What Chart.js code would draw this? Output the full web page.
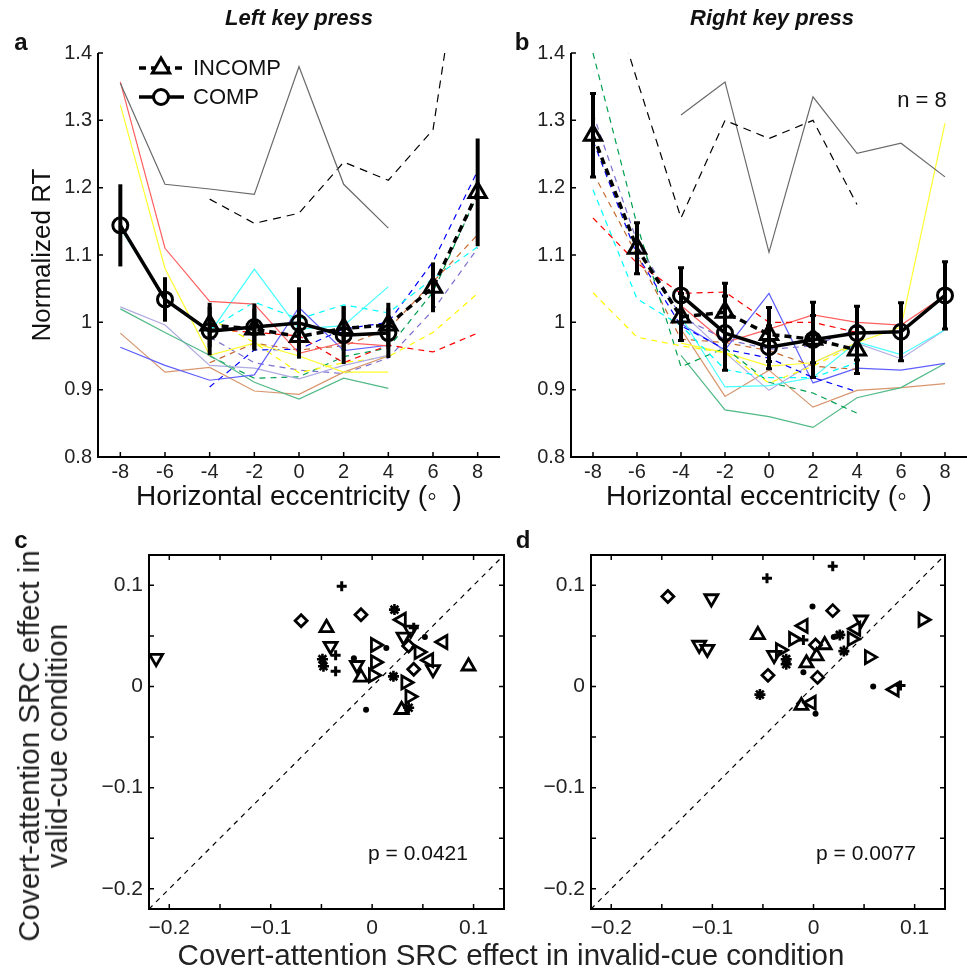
<!DOCTYPE html>
<html>
<head>
<meta charset="utf-8">
<script src="https://cdn.jsdelivr.net/npm/chart.js@4.4.0/dist/chart.umd.min.js"></script>
<style>
html, body { margin: 0; overflow: hidden; background: #fff; }
body { width: 967px; height: 972px; position: relative; font-family: "Liberation Sans", Arial, sans-serif; }
canvas { position: absolute; }
.t { position: absolute; white-space: nowrap; color: #111; transform: translate(-50%, -50%); }
</style>
</head>
<body>
<canvas id="chartA" width="520" height="520" style="left:0;top:0"></canvas>
<canvas id="chartB" width="460" height="520" style="left:520px;top:0"></canvas>
<canvas id="chartC" width="520" height="452" style="left:0;top:520px"></canvas>
<canvas id="chartD" width="447" height="452" style="left:520px;top:520px"></canvas>

<div class="t" style="left:299px;top:18px;font:italic bold 22px 'Liberation Sans',Arial">Left key press</div>
<div class="t" style="left:772px;top:18px;font:italic bold 22px 'Liberation Sans',Arial">Right key press</div>
<div class="t" style="left:21px;top:42px;font:bold 24px 'Liberation Sans',Arial">a</div>
<div class="t" style="left:522px;top:42px;font:bold 24px 'Liberation Sans',Arial">b</div>
<div class="t" style="left:21px;top:540px;font:bold 24px 'Liberation Sans',Arial">c</div>
<div class="t" style="left:523px;top:540px;font:bold 24px 'Liberation Sans',Arial">d</div>
<div class="t" style="left:922px;top:100px;font:22px 'Liberation Sans',Arial">n = 8</div>
<div class="t" style="left:418px;top:853px;font:21px 'Liberation Sans',Arial">p = 0.0421</div>
<div class="t" style="left:866px;top:853px;font:21px 'Liberation Sans',Arial">p = 0.0077</div>
<div class="t" style="left:43px;top:746px;transform:translate(-50%,-50%) rotate(-90deg);font:29.5px 'Liberation Sans',Arial;line-height:28px;text-align:center;color:#222">Covert-attention SRC effect in<br>valid-cue condition</div>
<div class="t" style="left:511px;top:955px;font:29.5px 'Liberation Sans',Arial;color:#222">Covert-attention SRC effect in invalid-cue condition</div>

<script>
// ---- data: panels a / b (normalized RT per subject) ----

const eccTicks = [-8, -6, -4, -2, 0, 2, 4, 6, 8];
const rtTicks = [0.8, 0.9, 1.0, 1.1, 1.2, 1.3, 1.4];

// left key press: COMP from -8 to 4, INCOMP from -4 to 8
const aCompEcc = [-8, -6, -4, -2, 0, 2, 4];
const aIncEcc = [-4, -2, 0, 2, 4, 6, 8];

const aCompGray   = [1.355, 1.205, 1.198, 1.190, 1.380, 1.205, 1.140];
const aCompRed    = [1.357, 1.110, 1.031, 1.027, 0.954, 0.970, 0.965];
const aCompYellow = [1.323, 1.080, 0.951, 0.969, 0.950, 0.926, 0.926];
const aCompCyan   = [1.140, 1.035, 0.984, 1.079, 0.990, 0.995, 1.053];
const aCompBlue   = [0.963, 0.936, 0.914, 0.922, 1.022, 0.958, 0.966];
const aCompGreen  = [1.020, 0.985, 0.951, 0.911, 0.886, 0.917, 0.902];
const aCompPurple = [1.023, 0.996, 0.936, 0.932, 0.916, 0.936, 0.951];
const aCompBrown  = [0.984, 0.926, 0.933, 0.898, 0.893, 0.926, 0.950];

const aIncGray   = [1.183, 1.147, 1.162, 1.238, 1.211, 1.286, 1.720];
const aIncRed    = [0.990, 0.985, 0.980, 0.940, 0.966, 0.956, 0.984];
const aIncYellow = [1.006, 0.970, 0.925, 0.940, 0.949, 0.985, 1.043];
const aIncCyan   = [0.990, 1.030, 1.005, 1.026, 1.014, 1.065, 1.112];
const aIncBlue   = [0.904, 0.959, 0.960, 0.990, 1.000, 1.090, 1.225];
const aIncGreen  = [0.950, 0.917, 0.919, 0.949, 0.962, 1.045, 1.190];
const aIncPurple = [0.978, 0.940, 0.929, 0.924, 0.947, 1.018, 1.110];
const aIncBrown  = [0.940, 0.969, 0.959, 0.965, 0.990, 1.060, 1.130];

const aCompMean = [1.144, 1.034, 0.987, 0.993, 0.999, 0.981, 0.984];
const aCompErr  = [0.061, 0.033, 0.036, 0.035, 0.053, 0.043, 0.037];
const aIncMean  = [0.996, 0.990, 0.979, 0.991, 0.996, 1.052, 1.193];
const aIncErr   = [0.033, 0.030, 0.030, 0.033, 0.033, 0.037, 0.080];

// right key press: INCOMP from -8 to 4, COMP from -4 to 8
const bIncEcc = [-8, -6, -4, -2, 0, 2, 4];
const bCompEcc = [-4, -2, 0, 2, 4, 6, 8];

const bIncGray   = [1.570, 1.360, 1.155, 1.300, 1.273, 1.300, 1.175];
const bIncRed    = [1.155, 1.088, 1.043, 1.045, 1.000, 1.000, 0.985];
const bIncYellow = [1.044, 0.978, 0.965, 0.955, 0.910, 0.935, 0.968];
const bIncCyan   = [1.197, 1.035, 0.995, 0.930, 0.918, 0.918, 0.940];
const bIncBlue   = [1.270, 1.100, 0.995, 0.960, 0.947, 0.918, 0.897];
const bIncGreen  = [1.400, 1.145, 0.934, 0.962, 0.911, 0.895, 0.865];
const bIncPurple = [1.310, 1.120, 1.008, 0.975, 0.960, 0.965, 0.990];
const bIncBrown  = [1.222, 1.100, 0.975, 0.970, 0.958, 0.935, 0.930];

const bCompGray   = [1.308, 1.357, 1.104, 1.335, 1.251, 1.266, 1.216];
const bCompRed    = [1.025, 0.970, 0.990, 1.011, 1.000, 0.996, 1.040];
const bCompYellow = [0.969, 0.955, 0.935, 0.940, 0.970, 0.993, 1.296];
const bCompCyan   = [1.008, 0.904, 0.906, 0.918, 0.971, 0.952, 0.989];
const bCompBlue   = [0.998, 0.959, 1.043, 0.910, 0.932, 0.929, 0.939];
const bCompGreen  = [0.951, 0.870, 0.860, 0.844, 0.888, 0.903, 0.939];
const bCompPurple = [1.015, 0.955, 0.899, 0.940, 0.969, 0.946, 0.989];
const bCompBrown  = [0.990, 0.890, 0.929, 0.874, 0.899, 0.903, 0.909];

const bIncMean  = [1.278, 1.110, 1.008, 1.015, 0.982, 0.975, 0.959];
const bIncErr   = [0.062, 0.038, 0.035, 0.043, 0.040, 0.035, 0.035];
const bCompMean = [1.040, 0.984, 0.963, 0.974, 0.984, 0.986, 1.040];
const bCompErr  = [0.041, 0.055, 0.032, 0.056, 0.040, 0.043, 0.050];

// ---- data: panels c / d (invalid-cue effect, valid-cue effect) ----

const srcTicks = [-0.2, -0.1, 0, 0.1];
const srcMinorTicks = [-0.2, -0.15, -0.1, -0.05, 0, 0.05, 0.1];
const diag = [-0.22, 0.13];

const cUp      = [[-0.045, 0.058], [-0.011, 0.009], [0.029, -0.023], [0.095, 0.020]];
const cDown    = [[-0.213, 0.028], [-0.041, 0.040], [-0.015, 0.021], [0.031, 0.049], [0.038, 0.056], [0.060, 0.017]];
const cLeft    = [[0.029, 0.066], [0.070, 0.044], [0.056, 0.026]];
const cRight   = [[0.003, 0.041], [0.046, 0.034], [0.003, 0.024], [0.001, 0.011], [0.033, 0.004], [0.037, -0.010]];
const cDiamond = [[-0.070, 0.065], [-0.011, 0.071], [0.036, 0.040], [0.041, 0.017]];
const cPlus    = [[-0.030, 0.099], [0.041, 0.058], [-0.036, 0.031], [-0.036, 0.015]];
const cStar    = [[0.022, 0.076], [-0.049, 0.027], [-0.048, 0.020], [0.021, 0.010], [0.036, -0.021]];
const cDot     = [[0.052, 0.049], [0.014, 0.038], [-0.018, 0.028], [-0.006, -0.023]];

const dUp      = [[-0.055, 0.051], [0.011, 0.041], [0.003, 0.030], [-0.007, 0.023], [-0.012, -0.019]];
const dDown    = [[-0.101, 0.087], [0.047, 0.066], [-0.113, 0.041], [-0.105, 0.037], [-0.039, 0.031]];
const dLeft    = [[-0.010, 0.060], [0.042, 0.057], [0.080, -0.003], [-0.002, -0.016]];
const dRight   = [[-0.020, 0.047], [0.038, 0.047], [0.108, 0.066], [0.055, 0.029], [-0.033, 0.036]];
const dDiamond = [[-0.144, 0.089], [0.019, 0.075], [0.002, 0.041], [-0.045, 0.011], [0.004, 0.009]];
const dPlus    = [[0.019, 0.119], [-0.046, 0.107], [-0.010, 0.046], [0.086, 0.001]];
const dStar    = [[0.026, 0.051], [0.030, 0.035], [-0.027, 0.027], [-0.027, 0.022], [-0.053, -0.008]];
const dDot     = [[-0.001, 0.079], [0.020, 0.049], [-0.010, 0.014], [0.059, 0.000], [0.002, -0.027]];

// ---- styles ----

const FONT = '"Liberation Sans", Arial, sans-serif';
Chart.defaults.font.family = FONT;
Chart.defaults.color = '#222';

const solidCol = {
    gray: 'rgb(105,105,105)', red: 'rgb(255,95,95)', yellow: 'rgb(255,255,50)', cyan: 'rgb(70,255,255)',
    blue: 'rgb(95,95,255)', green: 'rgb(80,185,135)', purple: 'rgb(175,170,225)', brown: 'rgb(215,150,110)'
};
const dashCol = {
    gray: '#000', red: '#ff0000', yellow: '#ffff00', cyan: '#00ffff',
    blue: '#0000ff', green: '#00a050', purple: '#7a70d0', brown: '#c46a30'
};

function subjLine(xs, ys, color, dashed) {
    return {
        data: xs.map((x, i) => ({ x: x, y: ys[i] })),
        borderColor: color,
        borderWidth: 1.2,
        borderDash: dashed ? (color === '#000' ? [8, 6] : [6, 5]) : [],
        pointRadius: 0,
        tension: 0,
        order: 10
    };
}

function meanLine(xs, ys, comp) {
    return {
        data: xs.map((x, i) => ({ x: x, y: ys[i] })),
        borderColor: '#000',
        borderWidth: 3.5,
        borderDash: comp ? [] : [7, 5],
        pointStyle: comp ? 'circle' : 'triangle',
        pointRadius: comp ? 7.5 : 10,
        pointBorderWidth: 3,
        pointBorderColor: '#000',
        pointBackgroundColor: 'rgba(0,0,0,0)',
        tension: 0,
        order: 1
    };
}

// axes lines + inward ticks (MATLAB look)
const frame = {
    id: 'frame',
    afterDatasetsDraw(chart, args, o) {
        const { ctx, chartArea: a, scales: { x, y } } = chart;
        ctx.save();
        ctx.strokeStyle = '#000';
        ctx.lineWidth = 1.5;
        ctx.beginPath();
        o.xt.forEach(v => {
            const p = x.getPixelForValue(v);
            ctx.moveTo(p, a.bottom); ctx.lineTo(p, a.bottom - o.len);
            if (o.box) { ctx.moveTo(p, a.top); ctx.lineTo(p, a.top + o.len); }
        });
        o.yt.forEach(v => {
            const p = y.getPixelForValue(v);
            ctx.moveTo(a.left, p); ctx.lineTo(a.left + o.len, p);
            if (o.box) { ctx.moveTo(a.right, p); ctx.lineTo(a.right - o.len, p); }
        });
        ctx.stroke();
        ctx.lineWidth = 2;
        ctx.beginPath();
        if (o.box) {
            ctx.rect(a.left, a.top, a.right - a.left, a.bottom - a.top);
        } else {
            ctx.moveTo(a.left, a.top); ctx.lineTo(a.left, a.bottom); ctx.lineTo(a.right, a.bottom);
        }
        ctx.stroke();
        ctx.restore();
    }
};

// error bars for the group means
const errorBars = {
    id: 'errorBars',
    afterDatasetsDraw(chart, args, o) {
        const { ctx, scales: { x, y } } = chart;
        ctx.save();
        ctx.strokeStyle = '#000';
        ctx.lineWidth = 4;
        o.sets.forEach(s => {
            s.xs.forEach((v, i) => {
                const px = x.getPixelForValue(v);
                const top = y.getPixelForValue(s.mean[i] + s.err[i]);
                const bot = y.getPixelForValue(s.mean[i] - s.err[i]);
                ctx.beginPath();
                ctx.moveTo(px, top); ctx.lineTo(px, bot);
                ctx.stroke();
                if (o.cap) {
                    ctx.lineWidth = 3;
                    ctx.beginPath();
                    ctx.moveTo(px - o.cap, top); ctx.lineTo(px + o.cap, top);
                    ctx.moveTo(px - o.cap, bot); ctx.lineTo(px + o.cap, bot);
                    ctx.stroke();
                    ctx.lineWidth = 4;
                }
            });
        });
        ctx.restore();
    }
};

// legend of panel a
const legendA = {
    id: 'legendA',
    afterDraw(chart) {
        const ctx = chart.ctx;
        ctx.save();
        ctx.strokeStyle = '#000';
        ctx.lineWidth = 3.5;
        ctx.setLineDash([7, 5]);
        ctx.beginPath(); ctx.moveTo(139, 68); ctx.lineTo(184, 68); ctx.stroke();
        ctx.setLineDash([]);
        ctx.beginPath(); ctx.moveTo(139, 97); ctx.lineTo(184, 97); ctx.stroke();
        ctx.lineWidth = 3;
        const r = 10;
        ctx.beginPath();
        ctx.moveTo(161, 68 - r);
        ctx.lineTo(161 + r * Math.sin(2 * Math.PI / 3), 68 - r * Math.cos(2 * Math.PI / 3));
        ctx.lineTo(161 + r * Math.sin(4 * Math.PI / 3), 68 - r * Math.cos(4 * Math.PI / 3));
        ctx.closePath();
        ctx.fillStyle = '#fff'; ctx.fill(); ctx.stroke();
        ctx.beginPath(); ctx.arc(161, 97, 7.5, 0, 2 * Math.PI); ctx.fill(); ctx.stroke();
        ctx.fillStyle = '#111';
        ctx.font = '22px ' + FONT;
        ctx.textBaseline = 'middle';
        ctx.fillText('INCOMP', 193, 69);
        ctx.fillText('COMP', 193, 98);
        ctx.restore();
    }
};

function rtLabel(v) { return v === 1 ? '1' : v.toFixed(1); }
function srcLabel(v) { return v === 0 ? '0' : (v < 0 ? '\u2212' : '') + Math.abs(v).toFixed(1); }

function rtScales(yWidth, showYTitle) {
    return {
        x: {
            type: 'linear', min: -9, max: 9,
            afterBuildTicks: s => { s.ticks = eccTicks.map(v => ({ value: v })); },
            afterFit: s => { s.height = 63; },
            ticks: { callback: v => String(v), font: { size: 20 }, padding: 3, maxRotation: 0, autoSkip: false },
            grid: { display: false, drawTicks: false },
            border: { display: false },
            title: { display: true, text: 'Horizontal eccentricity (\u25E6  )', font: { size: 28 }, color: '#111', padding: { top: 0, bottom: 6 } }
        },
        y: {
            min: 0.8, max: 1.4,
            afterBuildTicks: s => { s.ticks = rtTicks.map(v => ({ value: v })); },
            afterFit: s => { s.width = yWidth; },
            ticks: { callback: rtLabel, font: { size: 20 }, padding: 6 },
            grid: { display: false, drawTicks: false },
            border: { display: false },
            title: { display: showYTitle, text: 'Normalized RT', font: { size: 26 }, color: '#111', padding: { top: 0, bottom: 0 } }
        }
    };
}

function srcScales(yWidth) {
    return {
        x: {
            type: 'linear', min: -0.22, max: 0.13,
            afterBuildTicks: s => { s.ticks = srcTicks.map(v => ({ value: v })); },
            afterFit: s => { s.height = 63; },
            ticks: { callback: srcLabel, font: { size: 21 }, padding: 7, maxRotation: 0, autoSkip: false },
            grid: { display: false, drawTicks: false },
            border: { display: false }
        },
        y: {
            type: 'linear', min: -0.22, max: 0.13,
            afterBuildTicks: s => { s.ticks = srcTicks.map(v => ({ value: v })); },
            afterFit: s => { s.width = yWidth; },
            ticks: { callback: srcLabel, font: { size: 21 }, padding: 6 },
            grid: { display: false, drawTicks: false },
            border: { display: false }
        }
    };
}

// ---- panel a ----
new Chart(document.querySelector('#chartA'), {
    type: 'line',
    data: {
        datasets: [
            meanLine(aCompEcc, aCompMean, true),
            meanLine(aIncEcc, aIncMean, false),
            subjLine(aCompEcc, aCompGray, solidCol.gray, false),
            subjLine(aCompEcc, aCompRed, solidCol.red, false),
            subjLine(aCompEcc, aCompYellow, solidCol.yellow, false),
            subjLine(aCompEcc, aCompCyan, solidCol.cyan, false),
            subjLine(aCompEcc, aCompBlue, solidCol.blue, false),
            subjLine(aCompEcc, aCompGreen, solidCol.green, false),
            subjLine(aCompEcc, aCompPurple, solidCol.purple, false),
            subjLine(aCompEcc, aCompBrown, solidCol.brown, false),
            subjLine(aIncEcc, aIncGray, dashCol.gray, true),
            subjLine(aIncEcc, aIncRed, dashCol.red, true),
            subjLine(aIncEcc, aIncYellow, dashCol.yellow, true),
            subjLine(aIncEcc, aIncCyan, dashCol.cyan, true),
            subjLine(aIncEcc, aIncBlue, dashCol.blue, true),
            subjLine(aIncEcc, aIncGreen, dashCol.green, true),
            subjLine(aIncEcc, aIncPurple, dashCol.purple, true),
            subjLine(aIncEcc, aIncBrown, dashCol.brown, true)
        ]
    },
    options: {
        responsive: false, animation: false, events: [],
        layout: { padding: { left: 27, top: 53, right: 20, bottom: 0 } },
        scales: rtScales(71, true),
        plugins: {
            legend: { display: false }, tooltip: { enabled: false },
            frame: { xt: eccTicks, yt: rtTicks, len: 5, box: false },
            errorBars: { sets: [
                { xs: aCompEcc, mean: aCompMean, err: aCompErr },
                { xs: aIncEcc, mean: aIncMean, err: aIncErr }
            ], cap: 0 }
        }
    },
    plugins: [frame, errorBars, legendA]
});

// ---- panel b ----
new Chart(document.querySelector('#chartB'), {
    type: 'line',
    data: {
        datasets: [
            meanLine(bCompEcc, bCompMean, true),
            meanLine(bIncEcc, bIncMean, false),
            subjLine(bIncEcc, bIncGray, dashCol.gray, true),
            subjLine(bIncEcc, bIncRed, dashCol.red, true),
            subjLine(bIncEcc, bIncYellow, dashCol.yellow, true),
            subjLine(bIncEcc, bIncCyan, dashCol.cyan, true),
            subjLine(bIncEcc, bIncBlue, dashCol.blue, true),
            subjLine(bIncEcc, bIncGreen, dashCol.green, true),
            subjLine(bIncEcc, bIncPurple, dashCol.purple, true),
            subjLine(bIncEcc, bIncBrown, dashCol.brown, true),
            subjLine(bCompEcc, bCompGray, solidCol.gray, false),
            subjLine(bCompEcc, bCompRed, solidCol.red, false),
            subjLine(bCompEcc, bCompYellow, solidCol.yellow, false),
            subjLine(bCompEcc, bCompCyan, solidCol.cyan, false),
            subjLine(bCompEcc, bCompBlue, solidCol.blue, false),
            subjLine(bCompEcc, bCompGreen, solidCol.green, false),
            subjLine(bCompEcc, bCompPurple, solidCol.purple, false),
            subjLine(bCompEcc, bCompBrown, solidCol.brown, false)
        ]
    },
    options: {
        responsive: false, animation: false, events: [],
        layout: { padding: { left: 0, top: 53, right: 6, bottom: 0 } },
        scales: rtScales(51, false),
        plugins: {
            legend: { display: false }, tooltip: { enabled: false },
            frame: { xt: eccTicks, yt: rtTicks, len: 5, box: false },
            errorBars: { sets: [
                { xs: bCompEcc, mean: bCompMean, err: bCompErr },
                { xs: bIncEcc, mean: bIncMean, err: bIncErr }
            ], cap: 3 }
        }
    },
    plugins: [frame, errorBars]
});

// ---- panels c / d ----
function marks(pts, style, rot, r, bw, fill) {
    return {
        data: pts.map(p => ({ x: p[0], y: p[1] })),
        pointStyle: style,
        pointRotation: rot,
        pointRadius: r,
        pointBorderWidth: bw,
        pointBorderColor: '#000',
        pointBackgroundColor: fill || 'rgba(0,0,0,0)',
        showLine: false
    };
}

function diagLine() {
    return {
        data: diag.map(v => ({ x: v, y: v })),
        showLine: true,
        borderColor: '#000',
        borderWidth: 1.2,
        borderDash: [5, 5],
        pointRadius: 0
    };
}

function scatterSets(up, down, left, right, diamond, plus, star, dot) {
    return [
        diagLine(),
        marks(up, 'triangle', 0, 7.5, 2.8),
        marks(down, 'triangle', 180, 7.5, 2.8),
        marks(left, 'triangle', 270, 7.5, 2.8),
        marks(right, 'triangle', 90, 7.5, 2.8),
        marks(diamond, 'rectRot', 0, 6, 2.8),
        marks(plus, 'cross', 0, 5, 3),
        marks(star, 'star', 0, 5.5, 2.6),
        marks(dot, 'circle', 0, 3, 0, '#000')
    ];
}

new Chart(document.querySelector('#chartC'), {
    type: 'scatter',
    data: { datasets: scatterSets(cUp, cDown, cLeft, cRight, cDiamond, cPlus, cStar, cDot) },
    options: {
        responsive: false, animation: false, events: [],
        layout: { padding: { left: 0, top: 35, right: 16, bottom: 0 } },
        scales: srcScales(149),
        plugins: {
            legend: { display: false }, tooltip: { enabled: false },
            frame: { xt: srcMinorTicks, yt: srcMinorTicks, len: 5, box: true }
        }
    },
    plugins: [frame]
});

new Chart(document.querySelector('#chartD'), {
    type: 'scatter',
    data: { datasets: scatterSets(dUp, dDown, dLeft, dRight, dDiamond, dPlus, dStar, dDot) },
    options: {
        responsive: false, animation: false, events: [],
        layout: { padding: { left: 0, top: 35, right: 22, bottom: 0 } },
        scales: srcScales(71),
        plugins: {
            legend: { display: false }, tooltip: { enabled: false },
            frame: { xt: srcMinorTicks, yt: srcMinorTicks, len: 5, box: true }
        }
    },
    plugins: [frame]
});
</script>
</body>
</html>
